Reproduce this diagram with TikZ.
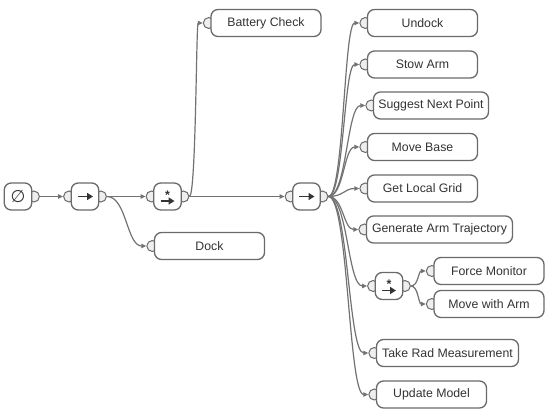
\documentclass[tikz,border=0pt]{standalone}
\usepackage{fontspec}
\setmainfont{Liberation Sans}
\newfontfamily\symfont{DejaVu Sans}
\usetikzlibrary{arrows.meta,backgrounds,calc}
\definecolor{edgegray}{HTML}{727272}
\definecolor{boxgray}{HTML}{6A6A6A}
\definecolor{portfill}{HTML}{EEEEEE}
\definecolor{txt}{HTML}{333333}
\newcommand\linkports[2]{%
  \path[conn] let \p1=(#1.east), \p2=(#2.west), \n1={(\x2-\x1)/2} in
    (\p1) .. controls +(\n1,0) and +(-\n1,0) .. (\p2);}
\begin{document}
\begin{tikzpicture}[x=1pt,y=-1pt,
  box/.style={draw=boxgray, line width=1.3pt, fill=white, rounded corners=7pt,
    minimum height=27pt, minimum width=110pt, inner xsep=4pt, inner ysep=0pt,
    text=txt, font=\fontsize{12.3}{14}\selectfont},
  ctl/.style={box, minimum width=27.5pt, minimum height=27pt},
  port/.style={circle, draw=boxgray, line width=1pt, fill=portfill,
    minimum size=11pt, inner sep=0pt},
  conn/.style={draw=edgegray, line width=1.2pt, -{Triangle[length=5pt,width=4.5pt]}},
  seqarrow/.style={draw=txt, line width=1.8pt, -{Triangle[length=6pt,width=7pt]}},
  staricon/.style={anchor=base, inner sep=0pt, text=txt,
    font=\bfseries\fontsize{12.5}{12.5}\selectfont}
]
\useasboundingbox (0,0) rectangle (550,414);

% control nodes
\node[ctl] (root) at (18,196.5) {\symfont\fontsize{17}{17}\selectfont ∅};
\node[ctl] (seqA) at (85,196.5) {};
\node[ctl] (parA) at (167.5,196.5) {};
\node[ctl] (seqB) at (306.5,196.5) {};
\node[ctl] (parB) at (389,286) {};

% action nodes
\node[box] (batt) at (266,23) {Battery Check};
\node[box] (dock) at (209.5,246) {Dock};
\node[box] (undock) at (422.5,23) {Undock};
\node[box] (stow) at (422.5,64.5) {Stow Arm};
\node[box, minimum width=115pt] (suggest) at (431,105.5) {Suggest Next Point};
\node[box] (movebase) at (422.5,147) {Move Base};
\node[box] (grid) at (422.5,188.5) {Get Local Grid};
\node[box, minimum width=146pt] (genarm) at (439.5,229.5) {Generate Arm Trajectory};
\node[box] (force) at (489,271) {Force Monitor};
\node[box] (movearm) at (489,304) {Move with Arm};
\node[box, minimum width=142pt] (rad) at (447.5,353) {Take Rad Measurement};
\node[box] (update) at (431.5,394.5) {Update Model};

% icons
\draw[seqarrow] ([xshift=-7.5pt]seqA.center) -- ([xshift=8pt]seqA.center);
\draw[seqarrow] ([xshift=-7.5pt]seqB.center) -- ([xshift=8pt]seqB.center);
\draw[seqarrow] ([xshift=-7pt,yshift=-4.5pt]parA.center) -- ([xshift=7pt,yshift=-4.5pt]parA.center);
\draw[seqarrow] ([xshift=-7pt,yshift=-4.5pt]parB.center) -- ([xshift=7pt,yshift=-4.5pt]parB.center);
\node[staricon] (parA-star) at ([yshift=-2.8pt]parA.center) {*};
\node[staricon] (parB-star) at ([yshift=-2.8pt]parB.center) {*};

% ports
\begin{pgfonlayer}{background}
\node[port] (root-o) at ([xshift=1.5pt]root.east) {};
\foreach \n in {seqA,parA,seqB,parB}{
  \node[port] (\n-i) at ([xshift=-1.5pt]\n.west) {};
  \node[port] (\n-o) at ([xshift=1.5pt]\n.east) {};
}
\foreach \n in {batt,dock,undock,stow,suggest,movebase,grid,genarm,force,movearm,rad,update}{
  \node[port] (\n-i) at ([xshift=-1.5pt]\n.west) {};
}
\end{pgfonlayer}

% connectors
\linkports{root-o}{seqA-i}
\linkports{seqA-o}{parA-i}
\linkports{seqA-o}{dock-i}
\linkports{parA-o}{batt-i}
\linkports{parA-o}{seqB-i}
\foreach \c in {undock,stow,suggest,movebase,grid,genarm,parB,rad,update}{
  \linkports{seqB-o}{\c-i}
}
\linkports{parB-o}{force-i}
\linkports{parB-o}{movearm-i}
\end{tikzpicture}
\end{document}
